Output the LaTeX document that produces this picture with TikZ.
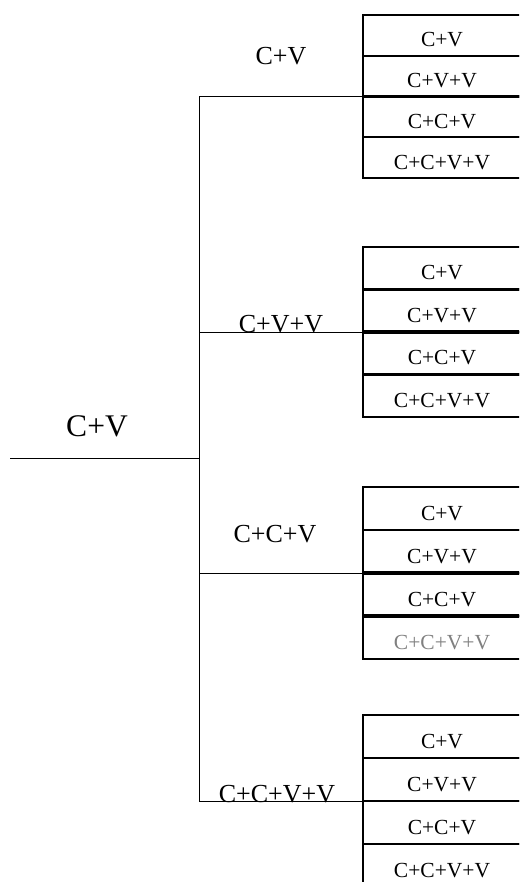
\documentclass[tikz,border=0pt]{standalone}
\usepackage{fontspec}
\setmainfont{Liberation Serif}
\usetikzlibrary{positioning}
\tikzset{
  cell/.style={draw, line width=2.2pt, outer sep=0pt, inner sep=0pt,
               minimum width=158pt, minimum height=#1,
               font=\fontsize{21.5}{24}\selectfont,
               text height=23pt, text depth=0pt},
  cell/.default=41pt,
  branch/.style={line width=1pt},
  split/.style={line width=3.6pt},
  tag/.style={font=\fontsize{26}{30}\selectfont, inner sep=0pt},
  roottag/.style={font=\fontsize{31.5}{36}\selectfont, inner sep=0pt},
}
\begin{document}
\begin{tikzpicture}[x=1pt, y=-1pt]

  \useasboundingbox (0,0) rectangle (519,882);
  \clip (0,0) rectangle (519,882);

  \node[roottag] (root) at (97,426) {C+V};
  \coordinate (start) at (10,458);
  \coordinate (fork) at (199,458);

  \node[tag] (la) at (281,56) {C+V};
  \node[tag, anchor=base] (lb) at (281,332) {C+V+V};
  \node[tag] (lc) at (275,534) {C+C+V};
  \node[tag, anchor=base] (ld) at (277,802) {C+C+V+V};

  % first group
  \node[cell=40.75pt, anchor=north west] (a1) at (363,15) {C+V};
  \node[cell=40.75pt, below=0pt of a1] (a2) {C+V+V};
  \node[cell=40.75pt, below=0pt of a2] (a3) {C+C+V};
  \node[cell=40.75pt, below=0pt of a3] (a4) {C+C+V+V};

  % second group
  \node[cell=42.5pt, anchor=north west] (b1) at (363,247) {C+V};
  \node[cell=42.5pt, below=0pt of b1] (b2) {C+V+V};
  \node[cell=42.5pt, below=0pt of b2] (b3) {C+C+V};
  \node[cell=42.5pt, below=0pt of b3] (b4) {C+C+V+V};

  % third group
  \node[cell=43pt, anchor=north west] (c1) at (363,487) {C+V};
  \node[cell=43pt, below=0pt of c1] (c2) {C+V+V};
  \node[cell=43pt, below=0pt of c2] (c3) {C+C+V};
  \node[cell=43pt, below=0pt of c3, text=black!50] (c4) {C+C+V+V};

  % fourth group
  \node[cell=43pt, anchor=north west] (d1) at (363,715) {C+V};
  \node[cell=43pt, below=0pt of d1] (d2) {C+V+V};
  \node[cell=43pt, below=0pt of d2] (d3) {C+C+V};
  \node[cell=43pt, below=0pt of d3] (d4) {C+C+V+V};

  \draw[split] (a3.north west) -- (a3.north east);
  \draw[split] (b3.north west) -- (b3.north east);
  \draw[split] (c3.north west) -- (c3.north east);
  \draw[split] (c4.north west) -- (c4.north east);

  \draw[branch] (start) -- (fork);
  \draw[branch] (fork) |- (a3.north west);
  \draw[branch] (fork) |- (b3.north west);
  \draw[branch] (fork) |- (c3.north west);
  \draw[branch] (fork) |- (d3.north west);

\end{tikzpicture}
\end{document}
